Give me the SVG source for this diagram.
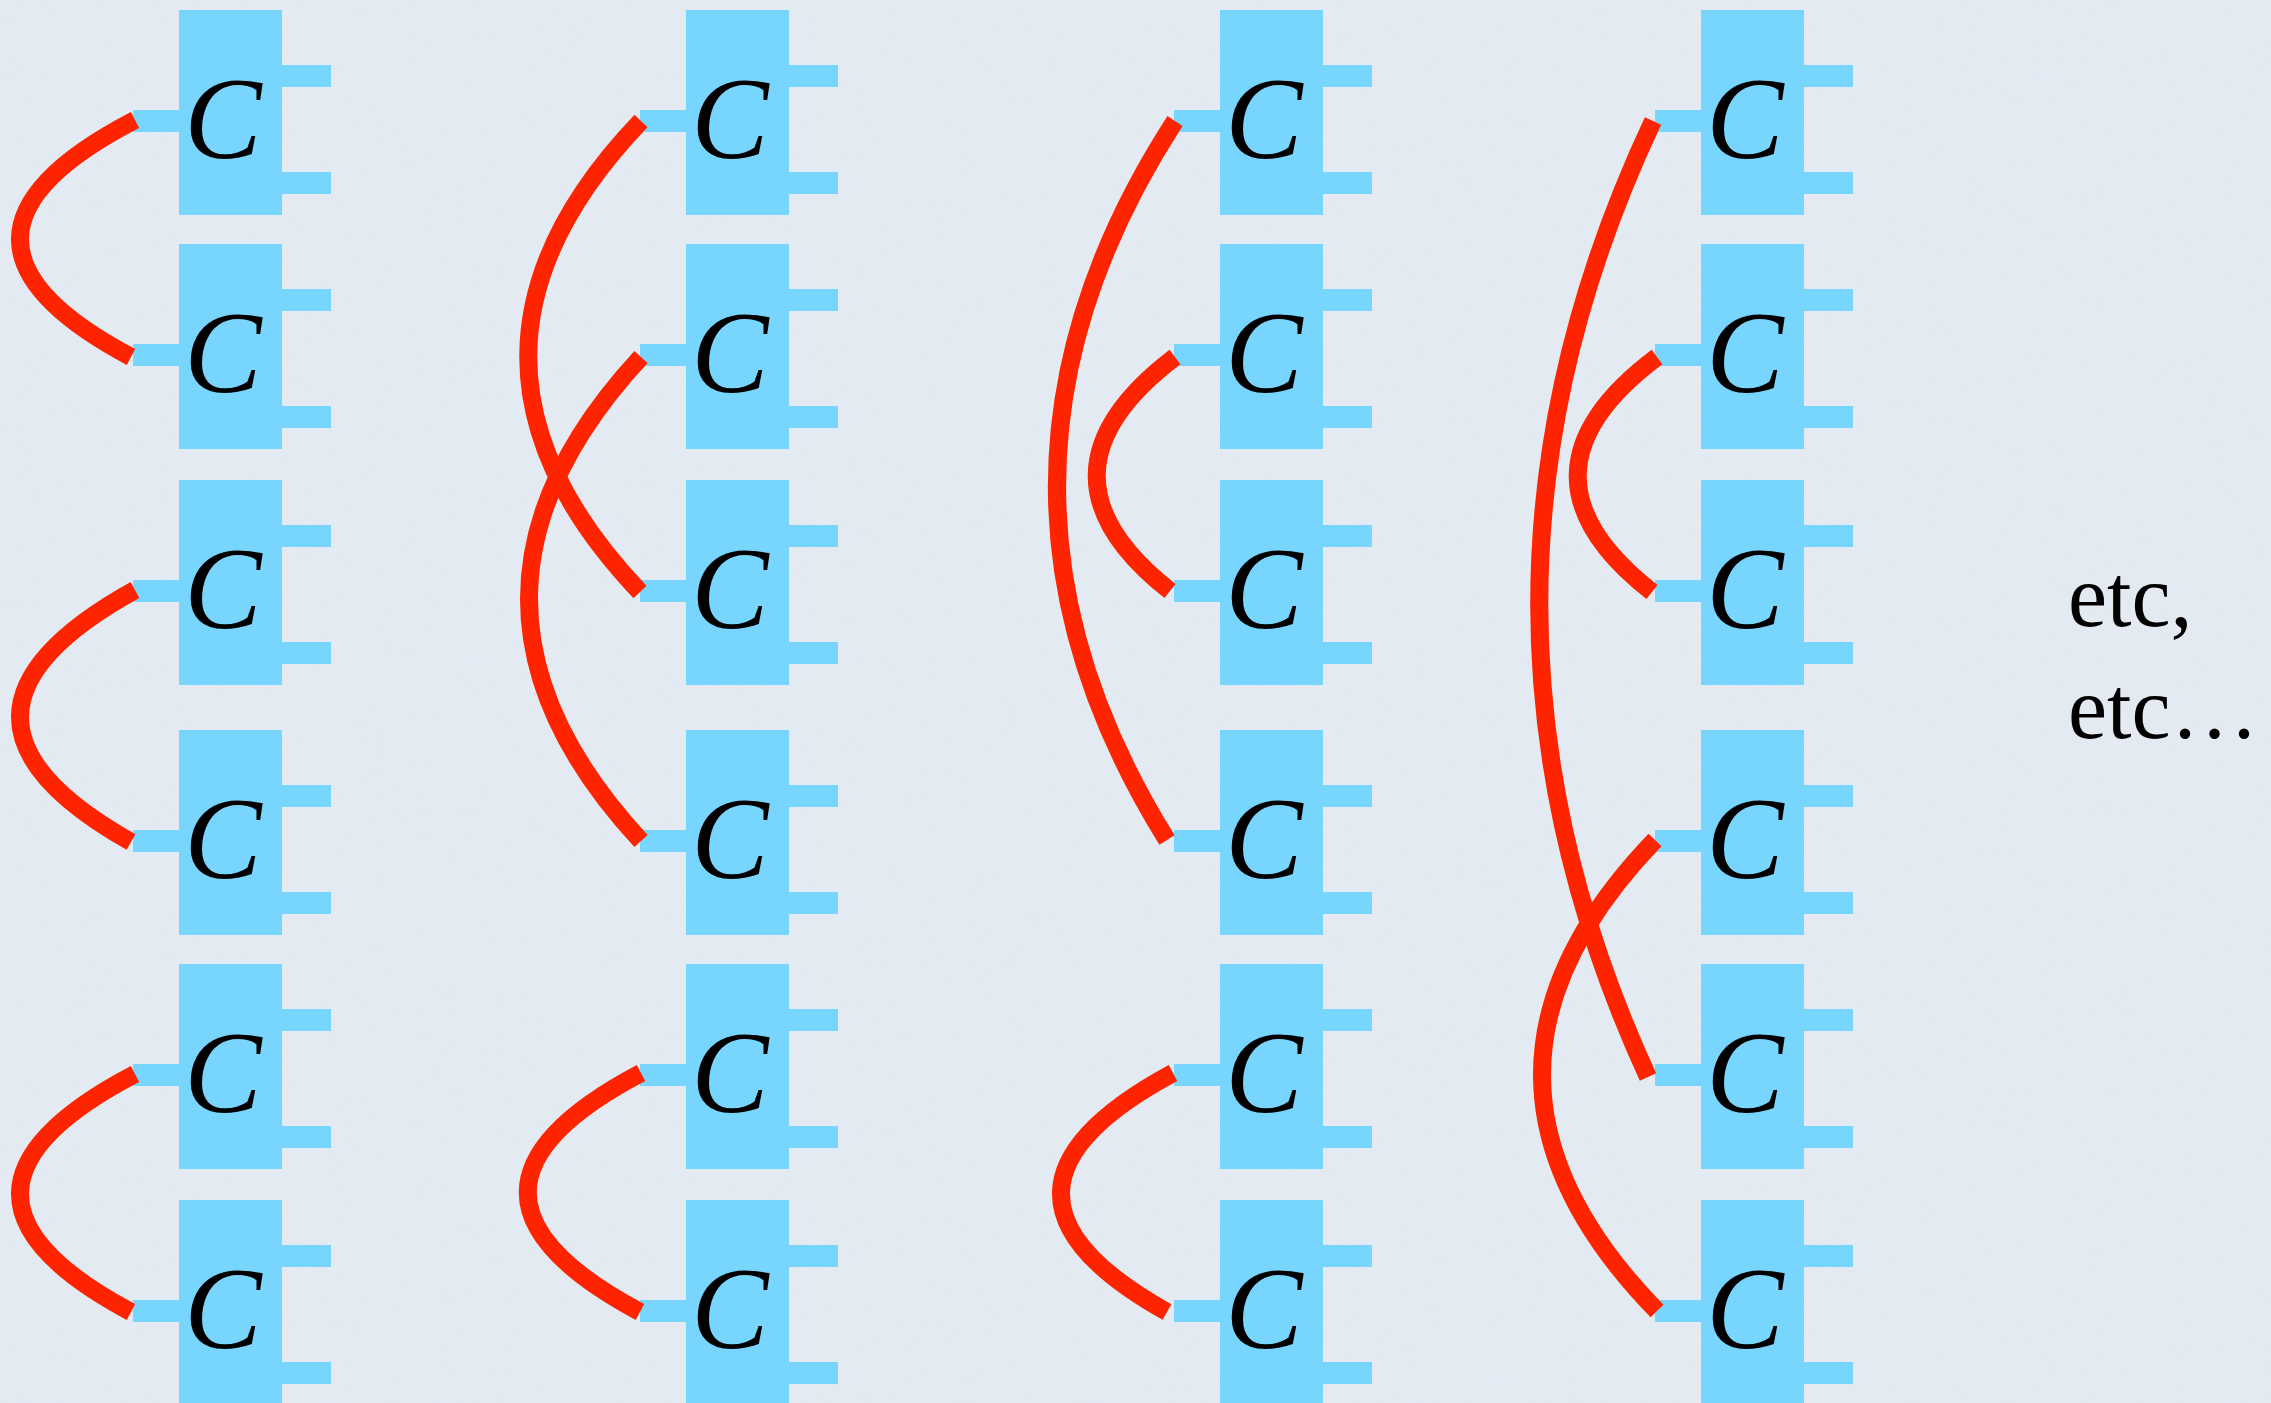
<svg xmlns="http://www.w3.org/2000/svg" width="2271" height="1403" viewBox="0 0 2271 1403">
  <defs>
    <style>
      .box { fill: #78d5fe; }
      .lbl { font-family: 'Liberation Serif', serif; font-style: italic; font-weight: normal; font-size: 116px; fill: #000; text-anchor: middle; }
      .wire { fill: none; stroke: #ff2400; stroke-width: 18; stroke-linecap: butt; }
      .note { font-family: 'Liberation Serif', serif; font-size: 88px; fill: #000; }
    </style>
    <filter id="grain" x="0" y="0" width="100%" height="100%">
      <feTurbulence type="fractalNoise" baseFrequency="0.9 0.35" numOctaves="3" seed="7"/>
      <feColorMatrix type="matrix" values="0 0 0 0 0.55  0 0 0 0 0.6  0 0 0 0 0.68  0 0 0 0.35 -0.1"/>
    </filter>
  </defs>

  <!-- paper background -->
  <rect width="2271" height="1403" fill="#e5ebf3"/>
  <rect width="2271" height="1403" filter="url(#grain)" opacity="0.35"/>

  <!-- cells: body, one input stub on the left, two output stubs on the right -->
  <g id="nodes">
    <g id="c1r1" transform="translate(179,10)"><rect class="box" width="103" height="205"/><rect class="box" x="-46" y="100" width="46" height="22"/><rect class="box" x="103" y="55" width="49" height="22"/><rect class="box" x="103" y="162" width="49" height="22"/><text class="lbl" x="44" y="148">C</text></g>
    <g id="c1r2" transform="translate(179,244)"><rect class="box" width="103" height="205"/><rect class="box" x="-46" y="100" width="46" height="22"/><rect class="box" x="103" y="45" width="49" height="22"/><rect class="box" x="103" y="162" width="49" height="22"/><text class="lbl" x="44" y="148">C</text></g>
    <g id="c1r3" transform="translate(179,480)"><rect class="box" width="103" height="205"/><rect class="box" x="-46" y="100" width="46" height="22"/><rect class="box" x="103" y="45" width="49" height="22"/><rect class="box" x="103" y="162" width="49" height="22"/><text class="lbl" x="44" y="148">C</text></g>
    <g id="c1r4" transform="translate(179,730)"><rect class="box" width="103" height="205"/><rect class="box" x="-46" y="100" width="46" height="22"/><rect class="box" x="103" y="55" width="49" height="22"/><rect class="box" x="103" y="162" width="49" height="22"/><text class="lbl" x="44" y="148">C</text></g>
    <g id="c1r5" transform="translate(179,964)"><rect class="box" width="103" height="205"/><rect class="box" x="-46" y="100" width="46" height="22"/><rect class="box" x="103" y="45" width="49" height="22"/><rect class="box" x="103" y="162" width="49" height="22"/><text class="lbl" x="44" y="148">C</text></g>
    <g id="c1r6" transform="translate(179,1200)"><rect class="box" width="103" height="205"/><rect class="box" x="-46" y="100" width="46" height="22"/><rect class="box" x="103" y="45" width="49" height="22"/><rect class="box" x="103" y="162" width="49" height="22"/><text class="lbl" x="44" y="148">C</text></g>

    <g id="c2r1" transform="translate(686,10)"><rect class="box" width="103" height="205"/><rect class="box" x="-46" y="100" width="46" height="22"/><rect class="box" x="103" y="55" width="49" height="22"/><rect class="box" x="103" y="162" width="49" height="22"/><text class="lbl" x="44" y="148">C</text></g>
    <g id="c2r2" transform="translate(686,244)"><rect class="box" width="103" height="205"/><rect class="box" x="-46" y="100" width="46" height="22"/><rect class="box" x="103" y="45" width="49" height="22"/><rect class="box" x="103" y="162" width="49" height="22"/><text class="lbl" x="44" y="148">C</text></g>
    <g id="c2r3" transform="translate(686,480)"><rect class="box" width="103" height="205"/><rect class="box" x="-46" y="100" width="46" height="22"/><rect class="box" x="103" y="45" width="49" height="22"/><rect class="box" x="103" y="162" width="49" height="22"/><text class="lbl" x="44" y="148">C</text></g>
    <g id="c2r4" transform="translate(686,730)"><rect class="box" width="103" height="205"/><rect class="box" x="-46" y="100" width="46" height="22"/><rect class="box" x="103" y="55" width="49" height="22"/><rect class="box" x="103" y="162" width="49" height="22"/><text class="lbl" x="44" y="148">C</text></g>
    <g id="c2r5" transform="translate(686,964)"><rect class="box" width="103" height="205"/><rect class="box" x="-46" y="100" width="46" height="22"/><rect class="box" x="103" y="45" width="49" height="22"/><rect class="box" x="103" y="162" width="49" height="22"/><text class="lbl" x="44" y="148">C</text></g>
    <g id="c2r6" transform="translate(686,1200)"><rect class="box" width="103" height="205"/><rect class="box" x="-46" y="100" width="46" height="22"/><rect class="box" x="103" y="45" width="49" height="22"/><rect class="box" x="103" y="162" width="49" height="22"/><text class="lbl" x="44" y="148">C</text></g>

    <g id="c3r1" transform="translate(1220,10)"><rect class="box" width="103" height="205"/><rect class="box" x="-46" y="100" width="46" height="22"/><rect class="box" x="103" y="55" width="49" height="22"/><rect class="box" x="103" y="162" width="49" height="22"/><text class="lbl" x="44" y="148">C</text></g>
    <g id="c3r2" transform="translate(1220,244)"><rect class="box" width="103" height="205"/><rect class="box" x="-46" y="100" width="46" height="22"/><rect class="box" x="103" y="45" width="49" height="22"/><rect class="box" x="103" y="162" width="49" height="22"/><text class="lbl" x="44" y="148">C</text></g>
    <g id="c3r3" transform="translate(1220,480)"><rect class="box" width="103" height="205"/><rect class="box" x="-46" y="100" width="46" height="22"/><rect class="box" x="103" y="45" width="49" height="22"/><rect class="box" x="103" y="162" width="49" height="22"/><text class="lbl" x="44" y="148">C</text></g>
    <g id="c3r4" transform="translate(1220,730)"><rect class="box" width="103" height="205"/><rect class="box" x="-46" y="100" width="46" height="22"/><rect class="box" x="103" y="55" width="49" height="22"/><rect class="box" x="103" y="162" width="49" height="22"/><text class="lbl" x="44" y="148">C</text></g>
    <g id="c3r5" transform="translate(1220,964)"><rect class="box" width="103" height="205"/><rect class="box" x="-46" y="100" width="46" height="22"/><rect class="box" x="103" y="45" width="49" height="22"/><rect class="box" x="103" y="162" width="49" height="22"/><text class="lbl" x="44" y="148">C</text></g>
    <g id="c3r6" transform="translate(1220,1200)"><rect class="box" width="103" height="205"/><rect class="box" x="-46" y="100" width="46" height="22"/><rect class="box" x="103" y="45" width="49" height="22"/><rect class="box" x="103" y="162" width="49" height="22"/><text class="lbl" x="44" y="148">C</text></g>

    <g id="c4r1" transform="translate(1701,10)"><rect class="box" width="103" height="205"/><rect class="box" x="-46" y="100" width="46" height="22"/><rect class="box" x="103" y="55" width="49" height="22"/><rect class="box" x="103" y="162" width="49" height="22"/><text class="lbl" x="44" y="148">C</text></g>
    <g id="c4r2" transform="translate(1701,244)"><rect class="box" width="103" height="205"/><rect class="box" x="-46" y="100" width="46" height="22"/><rect class="box" x="103" y="45" width="49" height="22"/><rect class="box" x="103" y="162" width="49" height="22"/><text class="lbl" x="44" y="148">C</text></g>
    <g id="c4r3" transform="translate(1701,480)"><rect class="box" width="103" height="205"/><rect class="box" x="-46" y="100" width="46" height="22"/><rect class="box" x="103" y="45" width="49" height="22"/><rect class="box" x="103" y="162" width="49" height="22"/><text class="lbl" x="44" y="148">C</text></g>
    <g id="c4r4" transform="translate(1701,730)"><rect class="box" width="103" height="205"/><rect class="box" x="-46" y="100" width="46" height="22"/><rect class="box" x="103" y="55" width="49" height="22"/><rect class="box" x="103" y="162" width="49" height="22"/><text class="lbl" x="44" y="148">C</text></g>
    <g id="c4r5" transform="translate(1701,964)"><rect class="box" width="103" height="205"/><rect class="box" x="-46" y="100" width="46" height="22"/><rect class="box" x="103" y="45" width="49" height="22"/><rect class="box" x="103" y="162" width="49" height="22"/><text class="lbl" x="44" y="148">C</text></g>
    <g id="c4r6" transform="translate(1701,1200)"><rect class="box" width="103" height="205"/><rect class="box" x="-46" y="100" width="46" height="22"/><rect class="box" x="103" y="45" width="49" height="22"/><rect class="box" x="103" y="162" width="49" height="22"/><text class="lbl" x="44" y="148">C</text></g>
  </g>

  <!-- pairings between input stubs -->
  <g id="connectors" class="wire">
    <path d="M135,120 Q-93,238 131,357"/>
    <path d="M135,590 Q-93,716 131,842"/>
    <path d="M135,1074 Q-93,1193 131,1312"/>

    <path d="M641,121 Q416,356 640,592"/>
    <path d="M641,357 Q417,599 641,841"/>
    <path d="M641,1073 Q415,1192 640,1312"/>

    <path d="M1175,121 Q943,480 1167,840"/>
    <path d="M1175,357 Q1021,474 1170,591"/>
    <path d="M1173,1073 Q952,1192 1167,1312"/>

    <path d="M1653,121 Q1428,599 1648,1077"/>
    <path d="M1657,357 Q1501,474 1652,592"/>
    <path d="M1655,840 Q1428,1076 1657,1311"/>
  </g>

  <g id="caption">
    <text class="note" x="2068" y="626">etc,</text>
    <text class="note" x="2068" y="738">etc…</text>
  </g>
</svg>
